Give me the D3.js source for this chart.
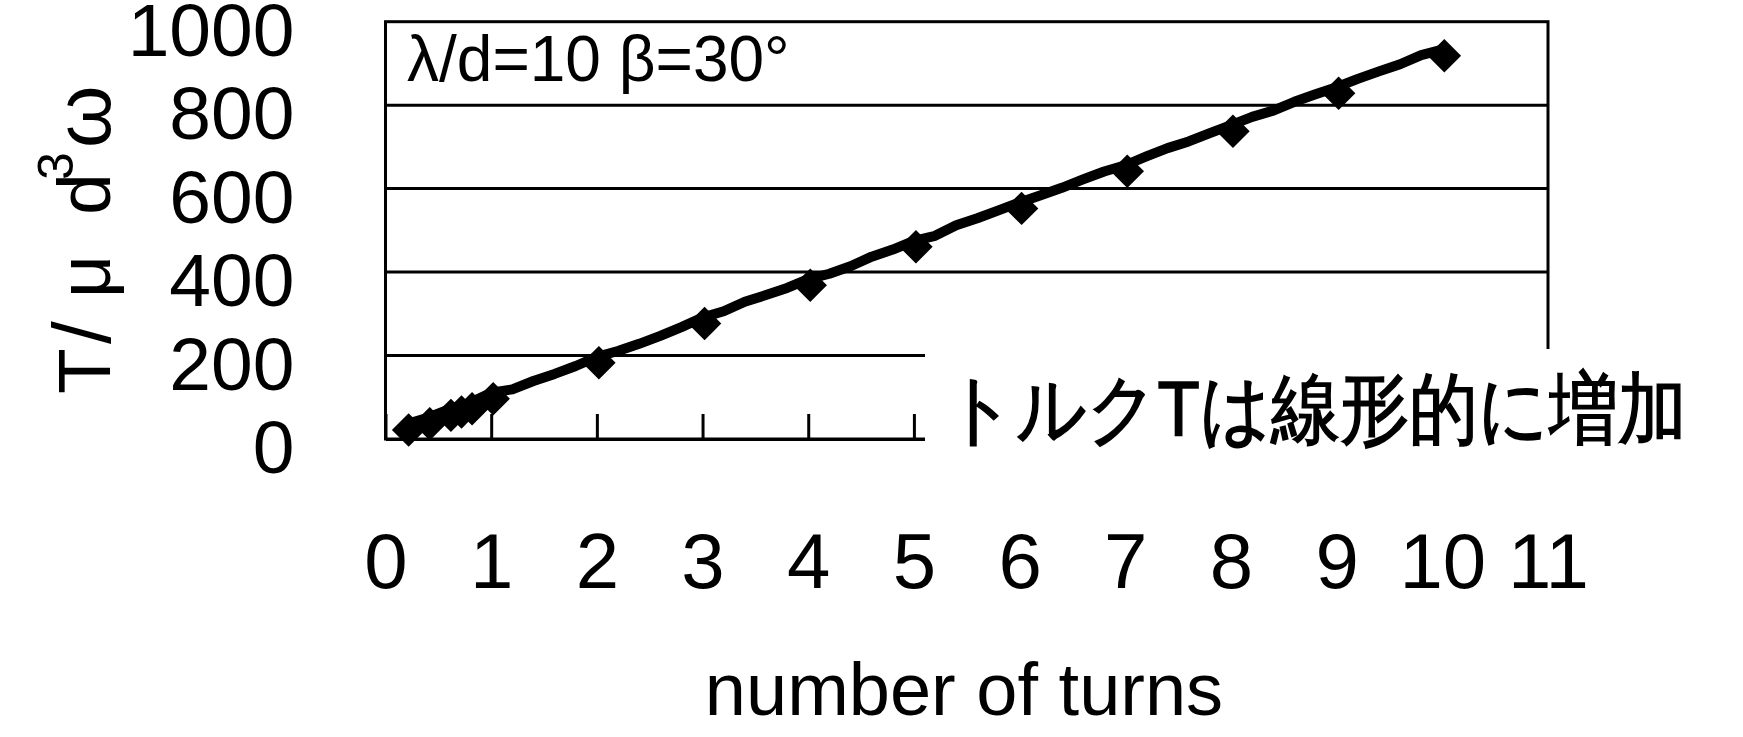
<html>
<head>
<meta charset="utf-8">
<script src="https://d3js.org/d3.v7.min.js"></script>
<style>
  body { margin: 0; background: #fff; }
  text { font-family: "Liberation Sans", Arial, sans-serif; fill: #000; }
</style>
</head>
<body>
<script>
  // data (line has a point every 0.2 turn)
  const turns = [0.2, 0.4, 0.6, 0.7, 0.8, 1.0,
    1.2, 1.4, 1.6, 1.8, 2.0, 2.2, 2.4, 2.6, 2.8, 3.0,
    3.2, 3.4, 3.6, 3.8, 4.0, 4.2, 4.4, 4.6, 4.8, 5.0,
    5.2, 5.4, 5.6, 5.8, 6.0, 6.2, 6.4, 6.6, 6.8, 7.0,
    7.2, 7.4, 7.6, 7.8, 8.0, 8.2, 8.4, 8.6, 8.8, 9.0,
    9.2, 9.4, 9.6, 9.8, 10.0];
  const torque = [36, 51, 71, 79, 87, 111,
    119, 139, 156, 175, 197, 211, 228, 247, 268, 291,
    306, 329, 345, 362, 383, 396, 414, 437, 454, 475,
    487, 512, 529, 548, 567, 584, 602, 622, 641, 656,
    677, 697, 713, 733, 752, 772, 787, 808, 826, 843,
    863, 881, 898, 920, 933];
  const markerTurns = [0.2, 0.4, 0.6, 0.7, 0.8, 1, 2, 3, 4, 5, 6, 7, 8, 9, 10];
  const xTicks = [0, 1, 2, 3, 4, 5, 6, 7, 8, 9, 10, 11];
  const yTicks = [0, 200, 400, 600, 800, 1000];

  const width = 1743, height = 737;
  const svg = d3.select("body").append("svg")
    .attr("width", width).attr("height", height);

  const x = d3.scaleLinear().domain([0, 11]).range([385.5, 1548]);
  const y = d3.scaleLinear().domain([0, 1000]).range([439, 21.7]);

  const points = turns.map((t, i) => [t, torque[i]]);
  const markers = points.filter(p => markerTurns.includes(p[0]));

  // gridlines
  svg.append("g").selectAll("line")
    .data(yTicks.filter(v => v > 0 && v < 1000))
    .join("line")
    .attr("x1", x(0)).attr("x2", x(11))
    .attr("y1", d => y(d)).attr("y2", d => y(d))
    .attr("stroke", "#000").attr("stroke-width", 3);

  // plot frame
  svg.append("rect")
    .attr("x", x(0)).attr("y", y(1000))
    .attr("width", x(11) - x(0)).attr("height", y(0) - y(1000))
    .attr("fill", "none").attr("stroke", "#000").attr("stroke-width", 3);

  // x axis
  const xAxis = svg.append("g")
    .attr("transform", `translate(0,${y(0)})`)
    .call(d3.axisBottom(x).tickValues(xTicks).tickSizeInner(-25).tickSizeOuter(0).tickPadding(94));
  xAxis.select(".domain").attr("stroke", "#000").attr("stroke-width", 3);
  xAxis.selectAll(".tick line").attr("stroke", "#000").attr("stroke-width", 3);
  xAxis.selectAll(".tick text")
    .attr("font-family", "Liberation Sans, Arial, sans-serif")
    .attr("font-size", 78).attr("fill", "#000");

  // y axis labels
  const yAxis = svg.append("g")
    .attr("transform", `translate(${x(0)},0)`)
    .call(d3.axisLeft(y).tickValues(yTicks).tickFormat(d3.format("d")).tickSize(0).tickPadding(91));
  yAxis.select(".domain").remove();
  yAxis.selectAll(".tick text")
    .attr("font-family", "Liberation Sans, Arial, sans-serif")
    .attr("font-size", 75).attr("dy", "0.45em").attr("fill", "#000");

  // series line
  const line = d3.line().x(d => x(d[0])).y(d => y(d[1]));
  svg.append("path")
    .attr("d", line(points))
    .attr("fill", "none").attr("stroke", "#000")
    .attr("stroke-width", 10).attr("stroke-linejoin", "round").attr("stroke-linecap", "round");

  // diamond markers
  const diamond = d3.symbol(d3.symbolSquare, 560);
  svg.append("g").selectAll("path")
    .data(markers)
    .join("path")
    .attr("d", diamond)
    .attr("transform", d => `translate(${x(d[0]) + 2},${y(d[1]) + 6}) rotate(45)`)
    .attr("fill", "#000");

  // annotation inside plot
  svg.append("text")
    .attr("x", 407).attr("y", 81)
    .attr("font-size", 64)
    .text("λ/d=10 β=30°");

  // white box with japanese comment
  svg.append("rect")
    .attr("x", 925).attr("y", 349)
    .attr("width", 818).attr("height", 110)
    .attr("fill", "#fff");

  svg.append("text")
    .attr("x", 945).attr("y", 436)
    .attr("font-family", "'Noto Sans CJK JP', sans-serif")
    .attr("font-size", 78)
    .attr("stroke", "#000").attr("stroke-width", 1.6)
    .style("font-feature-settings", "'palt'")
    .attr("textLength", 742).attr("lengthAdjust", "spacingAndGlyphs")
    .text("トルクTは線形的に増加");

  // x axis title
  svg.append("text")
    .attr("x", 964).attr("y", 715)
    .attr("text-anchor", "middle")
    .attr("font-size", 74)
    .text("number of turns");

  // y axis title, rotated
  const yTitle = svg.append("text")
    .attr("transform", "rotate(-90)")
    .attr("font-size", 75);
  yTitle.append("tspan").attr("x", -394).attr("y", 110).text("T");
  yTitle.append("tspan").attr("x", -344).attr("y", 110).attr("font-size", 82).text("/");
  yTitle.append("tspan").attr("x", -298).attr("y", 110).text("μ");
  yTitle.append("tspan").attr("x", -215).attr("y", 110).text("d");
  yTitle.append("tspan").attr("x", -180).attr("y", 73).attr("font-size", 50).text("3");
  yTitle.append("tspan").attr("x", -148).attr("y", 110).attr("font-size", 80).text("ω");
</script>
</body>
</html>
